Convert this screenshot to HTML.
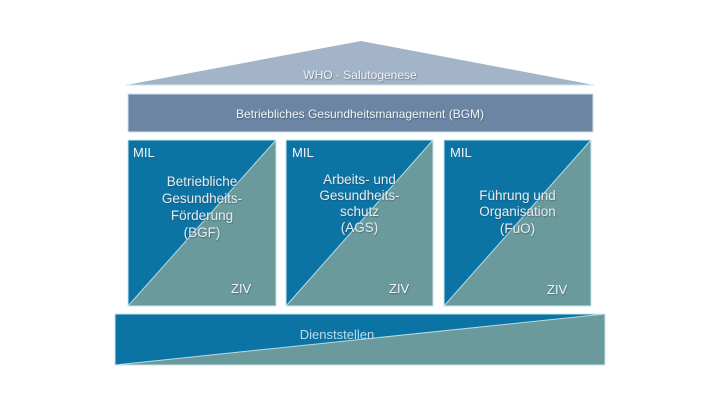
<!DOCTYPE html>
<html>
<head>
<meta charset="utf-8">
<style>
  html, body { margin: 0; padding: 0; background: #ffffff; }
  body { width: 720px; height: 405px; overflow: hidden; }
  svg { display: block; }
  text { font-family: "Liberation Sans", Arial, sans-serif; }
</style>
</head>
<body>
<svg width="720" height="405" viewBox="0 0 720 405" xmlns="http://www.w3.org/2000/svg">
  <defs>
    <filter id="sh" x="-10%" y="-30%" width="120%" height="160%">
      <feDropShadow dx="0.6" dy="0.8" stdDeviation="0.6" flood-color="#1c3a48" flood-opacity="0.55"/>
    </filter>
  </defs>
  <rect x="0" y="0" width="720" height="405" fill="#ffffff"/>

  <!-- Roof -->
  <polygon points="126,85 361,41 594,85" fill="#a3b4c8"/>
  <line x1="126" y1="85" x2="594" y2="85" stroke="#d2e2ea" stroke-width="1"/>
  <text x="360" y="79" font-size="12" fill="#eef2f5" text-anchor="middle" filter="url(#sh)">WHO - Salutogenese</text>

  <!-- BGM bar -->
  <rect x="128" y="94" width="465" height="38" fill="#6b85a3" stroke="#cfe0e8" stroke-width="1"/>
  <text x="360" y="118" font-size="12" fill="#eef2f5" text-anchor="middle" filter="url(#sh)">Betriebliches Gesundheitsmanagement (BGM)</text>

  <!-- Box 1 -->
  <polygon points="128,140 276,140 128,306" fill="#0c74a5"/>
  <polygon points="276,140 276,306 128,306" fill="#6b9a9d"/>
  <line x1="128" y1="306" x2="276" y2="140" stroke="#b6dbe3" stroke-width="1"/>
  <rect x="128" y="140" width="148" height="166" fill="none" stroke="#c4e6ee" stroke-width="1"/>
  <text x="133" y="157" font-size="13" fill="#f2f5f7">MIL</text>
  <text x="231" y="293" font-size="13" fill="#f2f5f7" filter="url(#sh)">ZIV</text>
  <g font-size="13.5" fill="#e4eaed" text-anchor="middle" filter="url(#sh)">
    <text x="202" y="186">Betriebliche</text>
    <text x="202" y="203">Gesundheits-</text>
    <text x="202" y="220">Förderung</text>
    <text x="202" y="237">(BGF)</text>
  </g>

  <!-- Box 2 -->
  <polygon points="286,140 433,140 286,306" fill="#0c74a5"/>
  <polygon points="433,140 433,306 286,306" fill="#6b9a9d"/>
  <line x1="286" y1="306" x2="433" y2="140" stroke="#b6dbe3" stroke-width="1"/>
  <rect x="286" y="140" width="147" height="166" fill="none" stroke="#c4e6ee" stroke-width="1"/>
  <text x="292" y="157" font-size="13" fill="#f2f5f7">MIL</text>
  <text x="389" y="293" font-size="13" fill="#f2f5f7" filter="url(#sh)">ZIV</text>
  <g font-size="13.5" fill="#e4eaed" text-anchor="middle" filter="url(#sh)">
    <text x="359.5" y="184">Arbeits- und</text>
    <text x="359.5" y="200">Gesundheits-</text>
    <text x="359.5" y="216">schutz</text>
    <text x="359.5" y="232">(AGS)</text>
  </g>

  <!-- Box 3 -->
  <polygon points="444,140 591,140 444,306" fill="#0c74a5"/>
  <polygon points="591,140 591,306 444,306" fill="#6b9a9d"/>
  <line x1="444" y1="306" x2="591" y2="140" stroke="#b6dbe3" stroke-width="1"/>
  <rect x="444" y="140" width="147" height="166" fill="none" stroke="#c4e6ee" stroke-width="1"/>
  <text x="450" y="157" font-size="13" fill="#f2f5f7">MIL</text>
  <text x="547" y="294" font-size="13" fill="#f2f5f7" filter="url(#sh)">ZIV</text>
  <g font-size="13.5" fill="#e4eaed" text-anchor="middle" filter="url(#sh)">
    <text x="517.5" y="200">Führung und</text>
    <text x="517.5" y="216">Organisation</text>
    <text x="517.5" y="233">(FuO)</text>
  </g>

  <!-- Bottom bar -->
  <polygon points="115,314 605,314 115,365" fill="#0c74a5"/>
  <polygon points="605,314 605,365 115,365" fill="#6b9a9d"/>
  <line x1="115" y1="365" x2="605" y2="314" stroke="#b6dbe3" stroke-width="1"/>
  <rect x="115" y="314" width="490" height="51" fill="none" stroke="#c4e6ee" stroke-width="1"/>
  <text x="337" y="339" font-size="13" fill="#b9dcea" text-anchor="middle">Dienststellen</text>
</svg>
</body>
</html>
